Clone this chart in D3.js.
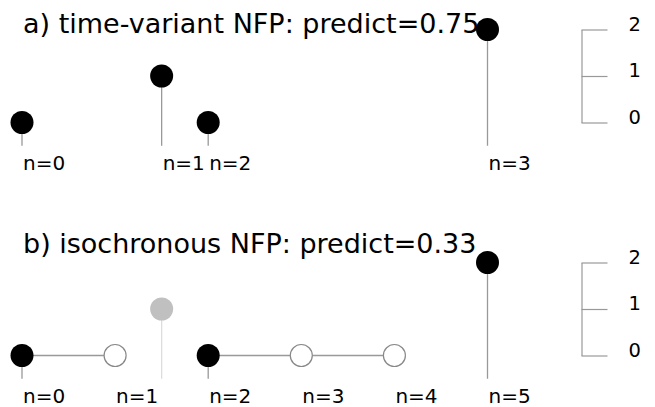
<!DOCTYPE html>
<html lang="en">
<head>
  <meta charset="UTF-8" />
  <title>NFP stems</title>
  <script src="https://d3js.org/d3.v7.min.js"></script>
  <style>
    body { margin: 0; background: white; }
    svg text { font-family: "DejaVu Sans", sans-serif; fill: #000; }
  </style>
</head>
<body>
  <svg width="655" height="407"></svg>

  <script>
    // time-variant events (time in bin units, count value)
    const tvTimes = [0, 1.5, 2, 5];
    const tvValues = [0, 1, 0, 2];
    const tvLabels = ["n=0", "n=1", "n=2", "n=3"];

    // isochronous bins
    const isoBins = [0, 1, 2, 3, 4, 5];
    const isoValues = [0, 0, 0, 0, 0, 2];
    const isoObserved = [true, false, true, false, false, true];
    const isoLabels = ["n=0", "n=1", "n=2", "n=3", "n=4", "n=5"];

    // faded event from the time-variant stream shown in panel b
    const ghostTime = [1.5];
    const ghostValue = [1];

    const titles = ["a) time-variant NFP: predict=0.75", "b) isochronous NFP: predict=0.33"];
    const scaleTicks = [0, 1, 2];

    const svg = d3.select("svg");
    const x = d3.scaleLinear().domain([0, 5]).range([22, 487.5]);

    function panel(offsetY, titleY, title) {
      const g = svg.append("g").attr("transform", `translate(0,${offsetY})`);
      const y = d3.scaleLinear().domain([0, 2]).range([122.5, 29.5]);

      g.append("text")
        .attr("x", 23)
        .attr("y", titleY)
        .attr("font-size", 27)
        .text(title);

      // value scale bar on the right
      g.append("g")
        .attr("transform", "translate(581.5,0)")
        .call(d3.axisRight(y).tickValues(scaleTicks).tickFormat(d3.format("d"))
          .tickSizeInner(26).tickSizeOuter(0).tickPadding(21))
        .call(a => a.selectAll("path, line").attr("stroke", "#999").attr("stroke-width", 1.2))
        .call(a => a.selectAll("text").attr("font-size", 19.5).attr("dy", "0.05em"));

      return { g, y };
    }

    // ---- panel a ----
    const pa = panel(0, 33, titles[0]);
    const base = pa.y(-0.5);

    pa.g.selectAll(".stem")
      .data(tvTimes)
      .enter().append("line")
      .attr("x1", d => x(d)).attr("x2", d => x(d))
      .attr("y1", base).attr("y2", (d, i) => pa.y(tvValues[i]))
      .attr("stroke", "#999").attr("stroke-width", 1.3);

    pa.g.selectAll(".dot")
      .data(tvTimes)
      .enter().append("circle")
      .attr("cx", d => x(d))
      .attr("cy", (d, i) => pa.y(tvValues[i]))
      .attr("r", 11.5)
      .attr("fill", "#000");

    pa.g.selectAll(".lbl")
      .data(tvTimes)
      .enter().append("text")
      .attr("x", d => x(d) + 1)
      .attr("y", 170)
      .attr("font-size", 20)
      .text((d, i) => tvLabels[i]);

    // ---- panel b ----
    const pb = panel(233, 20, titles[1]);
    const baseB = pb.y(-0.5);

    // hold lines from each observed bin across the following unobserved bins
    const holds = [];
    isoBins.forEach((b, i) => {
      if (isoObserved[i]) {
        let j = i;
        while (j + 1 < isoBins.length && !isoObserved[j + 1]) j++;
        if (j > i) holds.push([i, j]);
      }
    });
    pb.g.selectAll(".hold")
      .data(holds)
      .enter().append("line")
      .attr("x1", d => x(isoBins[d[0]])).attr("x2", d => x(isoBins[d[1]]))
      .attr("y1", d => pb.y(isoValues[d[0]])).attr("y2", d => pb.y(isoValues[d[1]]))
      .attr("stroke", "#999").attr("stroke-width", 1.3);

    pb.g.selectAll(".ghoststem")
      .data(ghostTime)
      .enter().append("line")
      .attr("x1", d => x(d)).attr("x2", d => x(d))
      .attr("y1", baseB).attr("y2", (d, i) => pb.y(ghostValue[i]))
      .attr("stroke", "#ddd").attr("stroke-width", 1.3);

    pb.g.selectAll(".ghost")
      .data(ghostTime)
      .enter().append("circle")
      .attr("cx", d => x(d))
      .attr("cy", (d, i) => pb.y(ghostValue[i]))
      .attr("r", 11.5)
      .attr("fill", "#c0c0c0");

    const obs = isoBins.filter((b, i) => isoObserved[i]);
    pb.g.selectAll(".stem")
      .data(obs)
      .enter().append("line")
      .attr("x1", d => x(d)).attr("x2", d => x(d))
      .attr("y1", baseB).attr("y2", d => pb.y(isoValues[d]))
      .attr("stroke", "#999").attr("stroke-width", 1.3);

    pb.g.selectAll(".dot")
      .data(isoBins)
      .enter().append("circle")
      .attr("cx", d => x(d))
      .attr("cy", (d, i) => pb.y(isoValues[i]))
      .attr("r", (d, i) => isoObserved[i] ? 11.5 : 11)
      .attr("fill", (d, i) => isoObserved[i] ? "#000" : "#fff")
      .attr("stroke", (d, i) => isoObserved[i] ? "none" : "#888")
      .attr("stroke-width", 1.2);

    pb.g.selectAll(".lbl")
      .data(isoBins)
      .enter().append("text")
      .attr("x", d => x(d) + 1)
      .attr("y", 170)
      .attr("font-size", 20)
      .text((d, i) => isoLabels[i]);
  </script>
</body>
</html>
